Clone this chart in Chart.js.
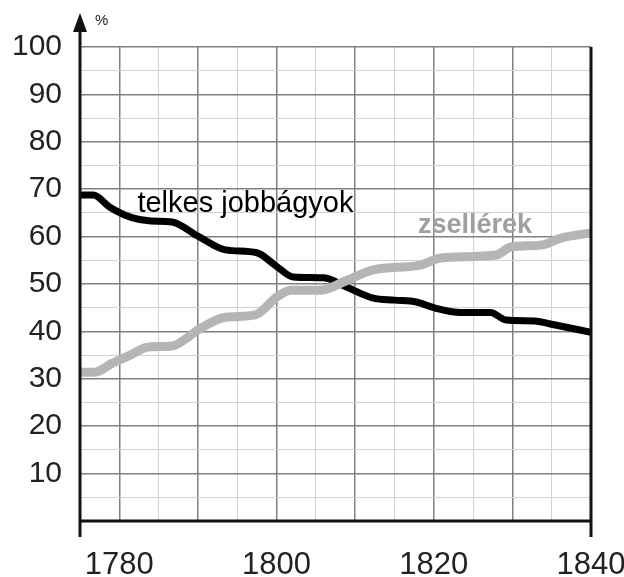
<!DOCTYPE html>
<html>
<head>
<meta charset="utf-8">
<script src="https://cdn.jsdelivr.net/npm/chart.js@4/dist/chart.umd.min.js"></script>
<style>
  html, body { margin: 0; padding: 0; background: #fff; overflow: hidden; }
  #wrap { width: 624px; height: 577px; }
</style>
</head>
<body>
<div id="wrap"><canvas id="c" width="624" height="577"></canvas></div>
<script>
// ---- data ----
const telkesYears  = [1775, 1776.7, 1778.8, 1781.6, 1784, 1786.7, 1790, 1793.5, 1797.5, 1799.8, 1802.1, 1806, 1809.1, 1812.3, 1815, 1817.8, 1820, 1823.4, 1827.2, 1829.2, 1832.8, 1835.3, 1840];
const telkesValues = [68.8, 68.8, 66.2, 64.0, 63.3, 63.1, 60.1, 57.2, 56.6, 54.0, 51.5, 51.3, 49.2, 47.0, 46.6, 46.2, 45.0, 44.0, 44.0, 42.4, 42.2, 41.4, 39.8];

const zsellerYears  = [1775, 1776.9, 1779, 1781.4, 1783.7, 1786.7, 1788.5, 1790, 1793.5, 1797.3, 1800, 1801.8, 1805.6, 1809, 1812.3, 1818.3, 1820.9, 1827.9, 1829.8, 1833.6, 1836.2, 1840];
const zsellerValues = [31.4, 31.4, 33.2, 35.0, 36.7, 36.9, 38.5, 40.3, 43.0, 43.5, 47.2, 48.7, 48.7, 50.8, 53.0, 54.0, 55.5, 56.1, 57.8, 58.2, 59.7, 60.8];

const seriesNames = ['telkes jobbágyok', 'zsellérek'];
const yTickLabels = [10, 20, 30, 40, 50, 60, 70, 80, 90, 100];
const xTickLabels = [1780, 1800, 1820, 1840];
const unitLabel = '%';

// label anchor points (in data units)
const labelPos = { telkes: [1782.3, 65.2], zseller: [1818.0, 60.8] };

const FONT = '"Liberation Sans", Arial, sans-serif';

function toPts(xs, ys) { return xs.map((x, i) => ({ x: x, y: ys[i] })); }

const decor = {
  id: 'decor',
  afterDatasetsDraw(chart) {
    const ctx = chart.ctx, a = chart.chartArea;
    const xs = chart.scales.x, ys = chart.scales.y;
    ctx.save();
    ctx.strokeStyle = '#111';
    ctx.lineWidth = 3;
    ctx.lineCap = 'butt';
    // left axis with arrow
    ctx.beginPath();
    ctx.moveTo(a.left, a.bottom + 16);
    ctx.lineTo(a.left, a.top - 22);
    ctx.stroke();
    // right frame line
    ctx.beginPath();
    ctx.moveTo(a.right, a.top);
    ctx.lineTo(a.right, a.bottom + 16);
    ctx.stroke();
    // bottom axis
    ctx.beginPath();
    ctx.moveTo(a.left, a.bottom);
    ctx.lineTo(a.right, a.bottom);
    ctx.stroke();
    // arrow head
    ctx.fillStyle = '#111';
    ctx.beginPath();
    ctx.moveTo(a.left, a.top - 34);
    ctx.lineTo(a.left - 7, a.top - 15);
    ctx.lineTo(a.left + 7, a.top - 15);
    ctx.closePath();
    ctx.fill();
    // unit
    ctx.fillStyle = '#222';
    ctx.font = '15px ' + FONT;
    ctx.textAlign = 'left';
    ctx.textBaseline = 'alphabetic';
    ctx.fillText(unitLabel, a.left + 15, a.top - 22);
    // series labels
    ctx.font = '29px ' + FONT;
    ctx.fillStyle = '#000';
    ctx.fillText(seriesNames[0], xs.getPixelForValue(labelPos.telkes[0]), ys.getPixelForValue(labelPos.telkes[1]));
    ctx.font = 'bold 27px ' + FONT;
    ctx.fillStyle = '#a0a0a0';
    ctx.fillText(seriesNames[1], xs.getPixelForValue(labelPos.zseller[0]), ys.getPixelForValue(labelPos.zseller[1]));
    ctx.restore();
  }
};

new Chart(document.getElementById('c'), {
  type: 'line',
  data: {
    datasets: [
      {
        label: seriesNames[1],
        data: toPts(zsellerYears, zsellerValues),
        borderColor: '#b5b5b5',
        borderWidth: 9,
        pointRadius: 0,
        cubicInterpolationMode: 'monotone',
        fill: false,
        borderCapStyle: 'butt'
      },
      {
        label: seriesNames[0],
        data: toPts(telkesYears, telkesValues),
        borderColor: '#000',
        borderWidth: 7,
        pointRadius: 0,
        cubicInterpolationMode: 'monotone',
        fill: false,
        borderCapStyle: 'butt'
      }
    ]
  },
  options: {
    responsive: false,
    animation: false,
    events: [],
    layout: { padding: { top: 47, right: 33, left: 0, bottom: 0 } },
    plugins: { legend: { display: false }, tooltip: { enabled: false } },
    scales: {
      x: {
        type: 'linear',
        min: 1775,
        max: 1840,
        border: { display: false },
        afterFit(s) { s.height = 56; s.paddingLeft = 0; s.paddingRight = 0; },
        grid: {
          drawTicks: false,
          color: (c) => (c.tick && c.tick.value % 10 === 0) ? '#808080' : '#d2d2d2',
          lineWidth: (c) => (c.tick && c.tick.value % 10 === 0) ? 1.5 : 1
        },
        ticks: {
          stepSize: 5,
          autoSkip: false,
          maxRotation: 0,
          padding: 26,
          color: '#222',
          font: { family: FONT, size: 31 },
          callback: (v) => xTickLabels.includes(v) ? String(v) : ''
        }
      },
      y: {
        min: 0,
        max: 100,
        border: { display: false },
        afterFit(s) { s.width = 80; s.paddingTop = 0; s.paddingBottom = 0; },
        grid: {
          drawTicks: false,
          color: (c) => (c.tick && c.tick.value % 10 === 0) ? '#808080' : '#d2d2d2',
          lineWidth: (c) => (c.tick && c.tick.value % 10 === 0) ? 1.5 : 1
        },
        ticks: {
          stepSize: 5,
          autoSkip: false,
          padding: 18,
          color: '#222',
          font: { family: FONT, size: 30 },
          callback: (v) => yTickLabels.includes(v) ? String(v) : ''
        }
      }
    }
  },
  plugins: [decor]
});
</script>
</body>
</html>
